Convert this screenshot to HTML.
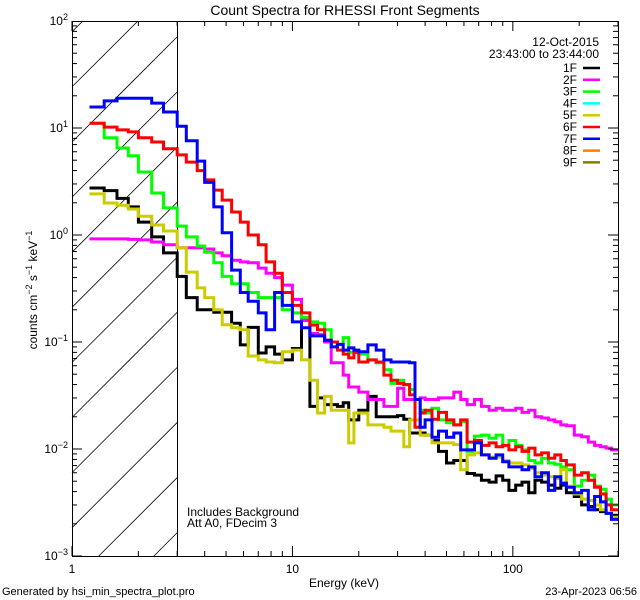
<!DOCTYPE html>
<html><head><meta charset="utf-8"><style>
html,body{margin:0;padding:0;background:#fff;overflow:hidden;width:640px;height:600px;}
svg{display:block;}
svg text{font-family:"Liberation Sans",sans-serif;fill:#000;}
</style></head><body>
<svg id="chart" width="640" height="600" viewBox="0 0 640 600" xmlns="http://www.w3.org/2000/svg">
<rect width="640" height="600" fill="#fff"/>
<text x="345" y="15" font-size="14" text-anchor="middle">Count Spectra for RHESSI Front Segments</text>
<g id="hatch"></g>
<g id="series"></g>
<g id="axes"></g>
<text x="187" y="516" font-size="12">Includes Background</text>
<text x="187" y="527" font-size="12">Att A0, FDecim 3</text>
<text x="344" y="587" font-size="12" text-anchor="middle">Energy (keV)</text>
<text transform="translate(37,290) rotate(-90)" font-size="12" text-anchor="middle">counts cm<tspan font-size="9" dy="-5">−2</tspan><tspan dy="5"> s</tspan><tspan font-size="9" dy="-5">−1</tspan><tspan dy="5"> keV</tspan><tspan font-size="9" dy="-5">−1</tspan></text>
<text x="2" y="595" font-size="11">Generated by hsi_min_spectra_plot.pro</text>
<text x="637" y="595" font-size="11" text-anchor="end">23-Apr-2023 06:56</text>
<text x="599" y="46" font-size="12" text-anchor="end">12-Oct-2015</text>
<text x="599" y="58" font-size="12" text-anchor="end">23:43:00 to 23:44:00</text>
<g id="legend"></g>
</svg>
<script>
const edges=[1.2,1.4,1.6,1.8,2.0,2.3,2.6,3.0,3.3,3.7,4.0,4.4,4.8,5.3,5.8,6.3,7.0,7.6,8.3,9.0,10,11,12,13,14,15,16,17,18,19,20,22,24,26,28,30,32,34,36,38,40,43,46,50,54,58,62,67,72,78,84,90,96,103,110,118,126,135,145,155,165,175,190,205,220,235,250,265,280,300];
const seriesNames=["1F","2F","3F","4F","5F","6F","7F","8F","9F"];
const seriesColors=["#000000","#ff00ff","#00ff00","#00ffff","#cccc00","#ff0000","#0000ff","#ff8000","#808000"];
const s1F=[2.75,2.6,2.2,1.83,1.32,0.96,0.68,0.41,0.26,0.2,0.2,0.19,0.19,0.15,0.094,0.137,0.079,0.09,0.077,0.068,0.087,0.16,0.025,0.03,0.026,0.026,0.025,0.027,0.0187,0.0187,0.023,0.031,0.02,0.02,0.02,0.0205,0.019,0.0141,0.0141,0.0141,0.0135,0.012,0.0095,0.0074,0.0078,0.0078,0.0059,0.0057,0.0051,0.0049,0.0056,0.0051,0.0041,0.0046,0.0049,0.0039,0.0051,0.0049,0.0046,0.0043,0.0046,0.0039,0.0036,0.003,0.0029,0.0027,0.0026,0.0025,0.0024];
const s2F=[0.92,0.92,0.92,0.91,0.9,0.86,0.81,0.76,0.76,0.76,0.74,0.68,0.64,0.58,0.56,0.55,0.49,0.44,0.40,0.34,0.25,0.16,0.12,0.117,0.1,0.064,0.064,0.049,0.038,0.038,0.034,0.029,0.029,0.025,0.025,0.037,0.029,0.029,0.029,0.03,0.029,0.029,0.03,0.03,0.034,0.029,0.026,0.029,0.025,0.023,0.024,0.023,0.023,0.024,0.022,0.023,0.02,0.0195,0.0187,0.018,0.0168,0.0165,0.0135,0.013,0.0116,0.0108,0.0105,0.0102,0.0098];
const s3F=[11.1,8.1,6.5,5.5,3.88,2.47,1.79,1.21,0.96,0.79,0.69,0.55,0.41,0.35,0.35,0.29,0.26,0.26,0.26,0.2,0.187,0.17,0.154,0.15,0.13,0.09,0.095,0.11,0.08,0.084,0.077,0.068,0.064,0.055,0.041,0.044,0.04,0.036,0.029,0.023,0.0217,0.024,0.0187,0.0176,0.0168,0.018,0.0095,0.0132,0.0135,0.0126,0.0135,0.0108,0.012,0.0108,0.0098,0.0078,0.0074,0.0082,0.0074,0.0072,0.0068,0.0064,0.0045,0.0051,0.0057,0.0045,0.0042,0.0034,0.003];
const s4F=[];
const s5F=[2.42,1.99,1.9,1.75,1.5,1.24,1.09,0.76,0.45,0.32,0.26,0.2,0.145,0.136,0.13,0.074,0.068,0.065,0.064,0.081,0.084,0.068,0.044,0.0217,0.031,0.023,0.023,0.023,0.0114,0.0217,0.0217,0.0168,0.0168,0.016,0.0147,0.0147,0.0105,0.0187,0.0187,0.0135,0.0135,0.0114,0.0114,0.0114,0.011,0.0064,0.0088,0.0092,0.0088,0.0084,0.0084,0.0078,0.0074,0.0074,0.0071,0.0066,0.006,0.0057,0.0055,0.0053,0.0064,0.0045,0.0038,0.0034,0.0033,0.003,0.0027,0.0025,0.0023];
const s6F=[11.1,10.2,9.6,9.2,8.1,7.4,6.4,5.6,4.8,4.0,3.27,2.63,2.12,1.64,1.32,1.0,0.81,0.56,0.44,0.29,0.22,0.187,0.144,0.13,0.104,0.1,0.084,0.077,0.071,0.08,0.065,0.068,0.065,0.049,0.044,0.041,0.04,0.032,0.016,0.0217,0.023,0.019,0.022,0.0187,0.0168,0.0187,0.0116,0.012,0.0108,0.0114,0.0105,0.0108,0.0098,0.0105,0.0095,0.0102,0.0088,0.0092,0.0082,0.0088,0.0078,0.0071,0.0057,0.006,0.0051,0.0044,0.0038,0.003,0.0027];
const s7F=[15.7,17.9,19,19,19,17.1,14.1,10.4,7.6,4.9,3.1,1.83,1.05,0.47,0.29,0.24,0.187,0.13,0.29,0.22,0.154,0.136,0.114,0.114,0.104,0.09,0.095,0.084,0.088,0.084,0.081,0.094,0.084,0.068,0.065,0.065,0.065,0.064,0.029,0.016,0.0187,0.0129,0.0147,0.0129,0.0141,0.0098,0.0098,0.0114,0.0088,0.0082,0.0088,0.0076,0.0068,0.0068,0.0064,0.0068,0.0055,0.006,0.0041,0.0055,0.0048,0.0044,0.0039,0.0041,0.0027,0.0036,0.0032,0.0025,0.0022];
const s8F=[];
const s9F=[];
const allSeries=[s1F,s2F,s3F,s4F,s5F,s6F,s7F,s8F,s9F];
const xTickValues=[1,10,100];
const xTickLabels=["1","10","100"];
const yTickExps=[2,1,0,-1,-2,-3];

const L=72,R=618,T=21,B=556;
const xMin=1,xMax=300,yMin=1e-3,yMax=1e2;
const lx0=Math.log10(xMin),lx1=Math.log10(xMax),ly0=Math.log10(yMin),ly1=Math.log10(yMax);
function xs(v){return L+(Math.log10(v)-lx0)/(lx1-lx0)*(R-L);}
function ys(v){return B-(Math.log10(v)-ly0)/(ly1-ly0)*(B-T);}
const NS="http://www.w3.org/2000/svg";
function mk(tag,attrs,parent){const e=document.createElementNS(NS,tag);for(const k in attrs)e.setAttribute(k,attrs[k]);parent.appendChild(e);return e;}
const svg=document.getElementById('chart');
const defs=mk('defs',{},svg);
const cp=mk('clipPath',{id:'plotclip'},defs);
mk('rect',{x:L,y:T,width:R-L,height:B-T},cp);

const hatch=document.getElementById('hatch');
const hx=Math.round(xs(3))+0.5;
for(let c=214-55.1*6;c<1000;c+=55.1){
  // line y = c - x, clipped to [L,hx] x [T,B]
  let xa=Math.max(L,c-B), xb=Math.min(hx,c-T);
  if(xb<=xa)continue;
  const ln=mk('line',{x1:xa,y1:c-xa,x2:xb,y2:c-xb,stroke:'#000','stroke-width':0.8},hatch);
  
  
}
const bline=mk('line',{x1:hx,y1:T,x2:hx,y2:B,stroke:'#000','stroke-width':1},hatch);



const sg=document.getElementById('series');
sg.setAttribute('clip-path','url(#plotclip)');
const order=[0,1,2,3,4,7,8,5,6];
order.forEach(i=>{
  const vals=allSeries[i];
  if(!vals.length)return;
  let d='M'+xs(edges[0]).toFixed(1)+' '+ys(vals[0]).toFixed(1);
  for(let k=0;k<vals.length;k++){
    if(k>0)d+=' V'+ys(vals[k]).toFixed(1);
    d+=' H'+xs(edges[k+1]).toFixed(1);
  }
  const p=mk('path',{d:d,fill:'none',stroke:seriesColors[i],'stroke-width':3,'stroke-linejoin':'miter'},sg);
  
  
});

const ax=document.getElementById('axes');
mk('rect',{x:L+0.5,y:T+0.5,width:R-L,height:B-T,fill:'none',stroke:'#000','stroke-width':1},ax);
for(let dec=0;dec<3;dec++){
  for(let m=1;m<10;m++){
    const v=m*Math.pow(10,dec);
    if(v>xMax)break;
    const x=xs(v);const len=(m===1)?10:5;
    mk('line',{x1:x,y1:B,x2:x,y2:B-len,stroke:'#000'},ax);
    mk('line',{x1:x,y1:T,x2:x,y2:T+len,stroke:'#000'},ax);
  }
}
xTickValues.forEach((v,i)=>{
  const t=mk('text',{x:xs(v),y:B+17,'font-size':12,'text-anchor':'middle'},ax);
  t.textContent=xTickLabels[i];
  
  
});
for(let e=-3;e<2;e++){
  for(let m=1;m<10;m++){
    const v=m*Math.pow(10,e);const y=ys(v);const len=(m===1)?10:5;
    mk('line',{x1:L,y1:y,x2:L+len,y2:y,stroke:'#000'},ax);
    mk('line',{x1:R,y1:y,x2:R-len,y2:y,stroke:'#000'},ax);
  }
}
yTickExps.forEach(e=>{
  const y=ys(Math.pow(10,e));
  const t=mk('text',{x:L-4,y:y+4,'font-size':12,'text-anchor':'end'},ax);
  const a=mk('tspan',{},t);a.textContent='10';
  const b=mk('tspan',{dy:-5,'font-size':9},t);b.textContent=(e<0?'−':'')+Math.abs(e);
  
  
});

const lg=document.getElementById('legend');
seriesNames.forEach((n,i)=>{
  const y=68+i*11.8;
  const g=mk('g',{},lg);
  
  
  const t=mk('text',{x:577,y:y+4,'font-size':12,'text-anchor':'end'},g);
  t.textContent=n;
  mk('line',{x1:583,y1:y,x2:600,y2:y,stroke:seriesColors[i],'stroke-width':2.5},g);
});
</script>
</body></html>
